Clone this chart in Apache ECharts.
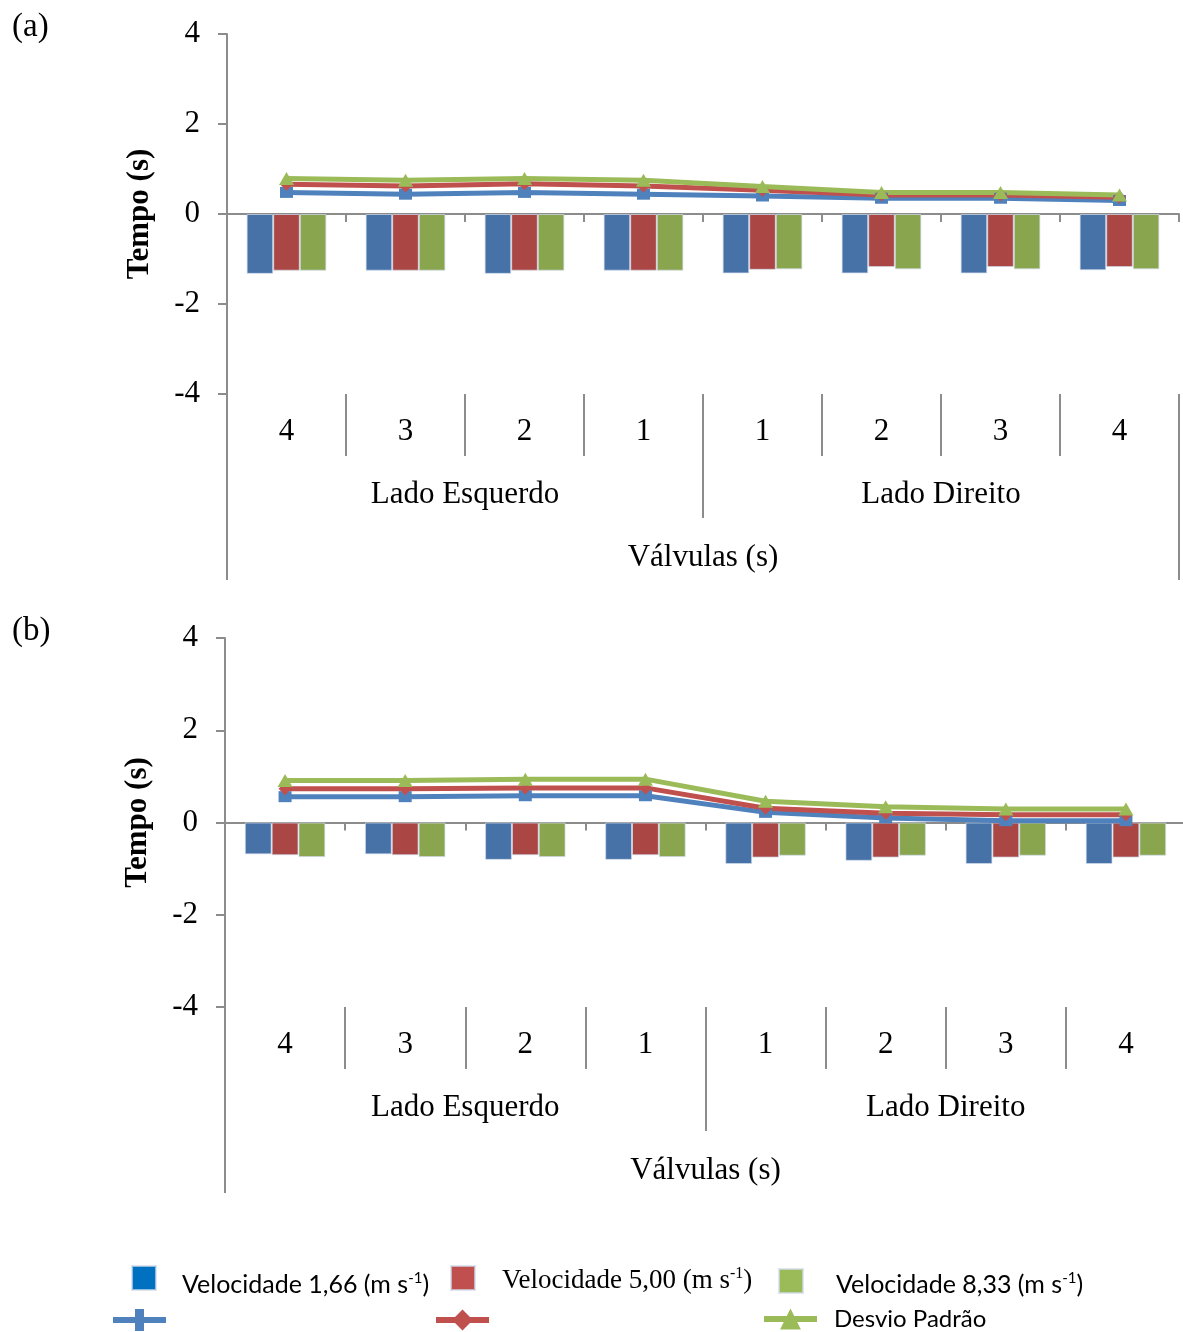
<!DOCTYPE html>
<html>
<head>
<meta charset="utf-8">
<script src="https://cdn.jsdelivr.net/npm/echarts@6/dist/echarts.min.js"></script>
<style>html,body{margin:0;padding:0;background:#fff;overflow:hidden;}#c{width:1192px;height:1332px;}</style>
</head>
<body>
<div id="c"></div>
<script>
// ---- data ----
const valveCats = ['4', '3', '2', '1', '1', '2', '3', '4'];
const sideCats = ['Lado Esquerdo', 'Lado Direito'];
const groupCats = ['Válvulas (s)'];
const yTicks = [-4, -2, 0, 2, 4];

// panel (a)
const barA_v166 = [-1.33, -1.26, -1.33, -1.26, -1.32, -1.32, -1.32, -1.25];
const barA_v500 = [-1.26, -1.26, -1.26, -1.26, -1.24, -1.18, -1.18, -1.18];
const barA_v833 = [-1.26, -1.26, -1.26, -1.26, -1.23, -1.23, -1.23, -1.23];
const lineA_v166 = [0.48, 0.44, 0.48, 0.44, 0.40, 0.35, 0.35, 0.30];
const lineA_v500 = [0.66, 0.62, 0.67, 0.62, 0.53, 0.42, 0.42, 0.37];
const lineA_v833 = [0.79, 0.75, 0.79, 0.75, 0.61, 0.48, 0.48, 0.42];

// panel (b)
const barB_v166 = [-0.69, -0.69, -0.81, -0.81, -0.90, -0.83, -0.90, -0.90];
const barB_v500 = [-0.71, -0.71, -0.71, -0.71, -0.76, -0.76, -0.76, -0.76];
const barB_v833 = [-0.75, -0.75, -0.75, -0.75, -0.72, -0.72, -0.72, -0.72];
const lineB_v166 = [0.56, 0.56, 0.58, 0.58, 0.22, 0.10, 0.04, 0.04];
const lineB_v500 = [0.73, 0.73, 0.75, 0.75, 0.31, 0.20, 0.17, 0.17];
const lineB_v833 = [0.91, 0.91, 0.94, 0.94, 0.46, 0.34, 0.29, 0.29];

const N1 = 'Velocidade 1,66', N5 = 'Velocidade 5,00', N8 = 'Velocidade 8,33';
const L1 = 'Desvio 1,66', L5 = 'Desvio 5,00', L8 = 'Desvio Padrão';

// ---- styles ----
const SERIF = '"Liberation Serif", "Times New Roman", serif';
const SANS = 'Lato, "Liberation Sans", sans-serif';
const FS = 31;
const AXC = '#8c8c8c';
const barCol = ['#4672a8', '#aa4644', '#89a54e'];
const lineCol = ['#4f81bd', '#c0504d', '#9bbb59'];
const legSq = ['#0070c0', '#c0504d', '#9bbb59'];

function grids() {
  return [
    { left: 227, top: 34, width: 952, height: 360 },
    { left: 225, top: 638, width: 961, height: 369 }
  ];
}

function xAxesFor(g) {
  const base = {
    gridIndex: g, type: 'category', position: 'bottom', boundaryGap: true,
    axisLine: { show: false, onZero: false },
    axisTick: { show: true, length: 62, lineStyle: { color: AXC, width: 2 } },
    axisLabel: { color: '#000', fontFamily: SERIF, fontSize: FS, margin: 22, interval: 0 },
    splitLine: { show: false }
  };
  return [
    {
      gridIndex: g, type: 'category', data: valveCats, boundaryGap: true,
      axisLine: { show: true, onZero: true, lineStyle: { color: AXC, width: 2 } },
      axisTick: { show: true, length: 8, lineStyle: { color: AXC, width: 2 } },
      axisLabel: { show: false }, splitLine: { show: false }
    },
    Object.assign({}, base, { data: valveCats, offset: 0 }),
    Object.assign({}, base, { data: sideCats, offset: 62, axisLabel: Object.assign({}, base.axisLabel, { margin: 23 }) }),
    Object.assign({}, base, { data: groupCats, offset: 124, axisLabel: Object.assign({}, base.axisLabel, { margin: 24 }) })
  ];
}

function yAxisFor(g) {
  return {
    gridIndex: g, type: 'value', min: yTicks[0], max: yTicks[yTicks.length - 1], interval: 2,
    name: 'Tempo (s)', nameLocation: 'middle', nameGap: 72,
    nameTextStyle: { fontFamily: SERIF, fontSize: FS, fontWeight: 'bold', color: '#000' },
    axisLine: { show: true, lineStyle: { color: AXC, width: 2 } },
    axisTick: { show: true, length: 9, lineStyle: { color: AXC, width: 2 } },
    axisLabel: { color: '#000', fontFamily: SERIF, fontSize: FS, margin: 27 },
    splitLine: { show: false }
  };
}

function barSeries(name, data, xi, yi, ci) {
  return {
    name: name, type: 'bar', data: data, xAxisIndex: xi, yAxisIndex: yi,
    barGap: '0%', barCategoryGap: '33%',
    itemStyle: { color: barCol[ci], borderColor: 'rgba(210,220,235,0.7)', borderWidth: 1 }
  };
}
const symbols = ['rect', 'diamond', 'triangle'];
const symSizes = [[13, 11], [13, 13], [15, 13]];
function lineSeries(name, data, xi, yi, ci) {
  return {
    name: name, type: 'line', data: data, xAxisIndex: xi, yAxisIndex: yi,
    symbol: symbols[ci], symbolSize: symSizes[ci], showSymbol: true,
    lineStyle: { color: lineCol[ci], width: 5 },
    itemStyle: { color: lineCol[ci] }, z: 5
  };
}

function supText(t) { return '{g|}{a|' + t + ' (m s}{s|-1}{a|)}'; }

function legendItem(name, left, top, opts) {
  return Object.assign({
    data: [name], left: left, top: top, padding: 0, orient: 'horizontal',
    selectedMode: false, itemGap: 0
  }, opts);
}

const rich = (font, size, gap) => ({
  g: { width: gap },
  a: { fontFamily: font, fontSize: size, color: '#000', lineHeight: size + 4 },
  s: { fontFamily: font, fontSize: Math.round(size * 0.6), color: '#000', verticalAlign: 'top', lineHeight: Math.round(size * 0.6) }
});

const option = {
  animation: false,
  backgroundColor: '#fff',
  title: [
    { text: '(a)', left: 7, top: 6, textStyle: { fontFamily: SERIF, fontSize: 33, fontWeight: 'normal', color: '#000' } },
    { text: '(b)', left: 7, top: 610, textStyle: { fontFamily: SERIF, fontSize: 33, fontWeight: 'normal', color: '#000' } }
  ],
  grid: grids(),
  xAxis: xAxesFor(0).concat(xAxesFor(1)),
  yAxis: [yAxisFor(0), yAxisFor(1)],
  legend: [
    legendItem(N1, 131, 1265, {
      icon: 'rect', itemWidth: 24, itemHeight: 24,
      data: [{ name: N1, itemStyle: { color: legSq[0] } }],
      formatter: () => supText('Velocidade 1,66'),
      textStyle: { padding: [14, 0, 0, 0], rich: rich(SANS, 25, 21) }
    }),
    legendItem(N5, 450, 1265, {
      icon: 'rect', itemWidth: 24, itemHeight: 24,
      data: [{ name: N5, itemStyle: { color: legSq[1] } }],
      formatter: () => supText('Velocidade 5,00'),
      textStyle: { padding: [6, 0, 0, 0], rich: rich(SERIF, 27, 22) }
    }),
    legendItem(N8, 778, 1268, {
      icon: 'rect', itemWidth: 24, itemHeight: 24,
      data: [{ name: N8, itemStyle: { color: legSq[2] } }],
      formatter: () => supText('Velocidade 8,33'),
      textStyle: { padding: [8, 0, 0, 0], rich: rich(SANS, 25, 28) }
    }),
    legendItem(L1, 113, 1309, {
      itemWidth: 53, itemHeight: 22,
      data: [{ name: L1, icon: 'path://M0,8H22V0H31V8H53V14H31V22H22V14H0Z', itemStyle: { color: lineCol[0] } }],
      formatter: () => ''
    }),
    legendItem(L5, 433, 1307, {
      itemWidth: 53, itemHeight: 26,
      lineStyle: { width: 6 },
      formatter: () => ''
    }),
    legendItem(L8, 761, 1307, {
      itemWidth: 53, itemHeight: 26,
      lineStyle: { width: 6 },
      formatter: () => '{g|}{a|Desvio Padrão}',
      textStyle: { rich: rich(SANS, 24, 12) }
    })
  ],
  series: [
    barSeries(N1, barA_v166, 0, 0, 0),
    barSeries(N5, barA_v500, 0, 0, 1),
    barSeries(N8, barA_v833, 0, 0, 2),
    lineSeries(L1, lineA_v166, 0, 0, 0),
    lineSeries(L5, lineA_v500, 0, 0, 1),
    lineSeries(L8, lineA_v833, 0, 0, 2),
    barSeries(N1, barB_v166, 4, 1, 0),
    barSeries(N5, barB_v500, 4, 1, 1),
    barSeries(N8, barB_v833, 4, 1, 2),
    lineSeries(L1, lineB_v166, 4, 1, 0),
    lineSeries(L5, lineB_v500, 4, 1, 1),
    lineSeries(L8, lineB_v833, 4, 1, 2)
  ]
};

const chart = echarts.init(document.getElementById('c'), null, { renderer: 'canvas' });
chart.setOption(option);
</script>
</body>
</html>
